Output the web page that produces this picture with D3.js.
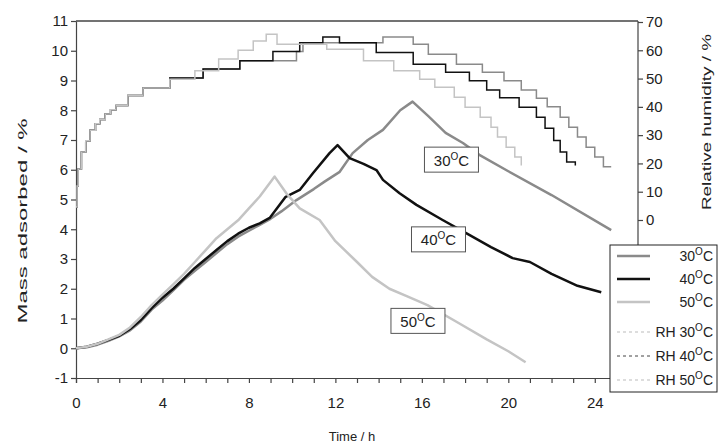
<!DOCTYPE html>
<html lang="en">
<head>
<meta charset="UTF-8">
<script src="https://cdn.jsdelivr.net/npm/d3@7"></script>
<title>Mass adsorbed and RH</title>
<style>
	body { margin: 0; background: #fff; }
	svg { font-family: "Liberation Sans", Arial, sans-serif; }
	.axis path, .axis line { stroke: #444; stroke-width: 1.2; }
	.axis text { font-size: 15px; fill: #222; }
	.title { font-size: 13px; fill: #222; }
</style>
</head>
<body>
<div id="chart"></div>
<script>
	const width = 719, height = 445;
	const margin = {left: 76, right: 81, top: 21, bottom: 67};

	// mass adsorbed (%) vs time (h)
	const mass30 = [[0,0],[0.5,0.03],[1,0.12],[1.5,0.25],[2,0.4],[2.5,0.6],[3,0.9],[3.5,1.3],[4,1.6],[4.5,1.95],[5,2.3],[5.5,2.6],[6,2.9],[6.5,3.2],[7,3.5],[7.5,3.75],[8,3.95],[8.5,4.15],[9,4.35],[9.5,4.6],[10.2,4.98],[11,5.35],[11.5,5.6],[12.2,5.93],[12.8,6.56],[13.5,7.0],[14.2,7.34],[15,8.0],[15.57,8.29],[16.3,7.8],[17.1,7.24],[17.9,6.9],[18.66,6.5],[20,5.95],[22,5.15],[24.76,3.97]];
	const mass40 = [[0,0],[0.5,0.05],[1,0.15],[1.5,0.28],[2,0.42],[2.5,0.65],[3,0.95],[3.5,1.35],[4,1.7],[4.5,2.0],[5,2.35],[5.5,2.7],[6,3.0],[6.5,3.3],[7,3.6],[7.5,3.85],[8,4.05],[8.5,4.2],[8.96,4.38],[9.7,5.09],[10.35,5.32],[10.96,5.88],[11.73,6.56],[12.1,6.83],[12.66,6.39],[13.3,6.2],[13.9,5.99],[14.2,5.66],[14.97,5.21],[15.75,4.82],[16.96,4.31],[18.05,3.87],[19.2,3.4],[20.2,3.03],[21,2.9],[22,2.5],[23.2,2.1],[24.3,1.88]];
	const mass50 = [[0,0],[0.5,0.05],[1,0.15],[1.5,0.3],[2,0.45],[2.5,0.7],[3,1.05],[3.5,1.45],[4,1.8],[4.5,2.15],[5,2.5],[5.5,2.9],[6,3.3],[6.5,3.7],[7,4.0],[7.5,4.3],[8,4.7],[8.5,5.1],[9.19,5.77],[9.74,5.2],[10.35,4.7],[11.27,4.31],[12,3.6],[13,2.9],[13.7,2.4],[14.5,2.0],[15.3,1.75],[16.26,1.45],[17.7,0.85],[19,0.3],[20,-0.1],[20.8,-0.47]];

	// relative humidity (%) step values vs time (h)
	const rhStart = [[0,4.6],[0.05,12],[0.1,18],[0.25,24],[0.45,28],[0.65,31.7],[0.9,34],[1.1,35.5],[1.35,37.5],[1.6,39],[1.85,40.5],[2.4,44],[3.1,46.7]];
	const rh30 = rhStart.concat([[4.34,50.2],[5.88,53.4],[7.58,56.3],[10.2,59.6],[10.5,62.7],[14.2,64.7],[15.6,62.1],[16.3,58.6],[17.6,55.1],[18.8,52.2],[19.8,49.2],[20.6,46],[21.3,43],[21.8,40],[22.4,36.3],[22.8,32.8],[23.2,29.3],[23.6,25.7],[24.0,22.3],[24.4,18.8],[24.76,18.8]]);
	const rh40 = rhStart.concat([[4.34,50.2],[5.88,53.4],[7.58,56.3],[9.11,59.6],[10.35,62.7],[11.42,64.7],[12.19,62.7],[13.89,59.2],[15.6,55.1],[17.1,52.2],[18.2,49.2],[19.0,46],[19.6,43.2],[20.5,39.9],[21.3,36.3],[21.7,32.4],[22.1,28.1],[22.4,24],[22.7,20.5],[23.1,19.3]]);
	const rh50 = rhStart.concat([[4.34,49.8],[5.5,52.8],[6.6,56.9],[7.5,60],[8.2,63.3],[8.8,65.7],[9.3,62.1],[11.6,60.4],[13.3,56.3],[14.7,52.8],[15.9,49.8],[16.6,46.9],[17.5,43.4],[18.0,39.9],[18.7,36.3],[19.2,32.8],[19.5,29.3],[19.9,25.7],[20.3,22.3],[20.6,19.3]]);

	const massTicks = d3.range(-1, 12);
	const rhTicks = [0, 10, 20, 30, 40, 50, 60, 70];
	const timeTicks = d3.range(0, 26);
	const timeLabels = [0, 4, 8, 12, 16, 20, 24];

	// in-plot labels: temperature, box centre (time, mass)
	const curveLabels = [
		{temp: '30', t: 17.37, m: 6.34},
		{temp: '40', t: 16.77, m: 3.66},
		{temp: '50', t: 15.82, m: 0.92}
	];

	const series = [
		{name: '30', data: mass30, color: '#8a8a8a'},
		{name: '40', data: mass40, color: '#111'},
		{name: '50', data: mass50, color: '#c4c4c4'}
	];
	const rhSeries = [
		{name: '30', data: rh30, color: '#8a8a8a'},
		{name: '40', data: rh40, color: '#111'},
		{name: '50', data: rh50, color: '#c4c4c4'}
	];

	const x = d3.scaleLinear().domain([0, 26]).range([margin.left, width - margin.right]);
	const y = d3.scaleLinear().domain([-1, 11]).range([height - margin.bottom, margin.top]);
	const yRH = d3.scaleLinear().domain([0, 70]).range([220, margin.top + 1]);

	const svg = d3.select('#chart').append('svg')
		.attr('width', width)
		.attr('height', height);

	// top frame
	svg.append('line')
		.attr('x1', x(0)).attr('x2', x(26))
		.attr('y1', y(11)).attr('y2', y(11))
		.attr('stroke', '#444').attr('stroke-width', 1.5);

	svg.append('g')
		.attr('class', 'axis')
		.attr('transform', `translate(0,${y(-1)})`)
		.call(d3.axisBottom(x).tickValues(timeTicks).tickSize(5)
			.tickFormat(d => timeLabels.indexOf(d) > -1 ? d : ''))
		.call(g => g.selectAll('text').attr('dy', '1.45em'));

	svg.append('g')
		.attr('class', 'axis')
		.attr('transform', `translate(${x(0)},0)`)
		.call(d3.axisLeft(y).tickValues(massTicks).tickSize(5).tickSizeOuter(0)
			.tickFormat(d => String(d)));

	// right axis runs the full height, ticks only 0..70
	svg.append('line')
		.attr('x1', x(26)).attr('x2', x(26))
		.attr('y1', y(11)).attr('y2', y(-1))
		.attr('stroke', '#444').attr('stroke-width', 1.2);
	svg.append('g')
		.attr('class', 'axis')
		.attr('transform', `translate(${x(26)},0)`)
		.call(d3.axisRight(yRH).tickValues(rhTicks).tickSize(5).tickSizeOuter(0))
		.call(g => g.select('.domain').remove());

	const rhLine = d3.line()
		.x(d => x(d[0]))
		.y(d => yRH(d[1]))
		.curve(d3.curveStepAfter);

	svg.append('g').selectAll('path')
		.data(rhSeries)
		.join('path')
		.attr('d', d => rhLine(d.data))
		.attr('fill', 'none')
		.attr('stroke', d => d.color)
		.attr('stroke-width', 1.5);

	const massLine = d3.line()
		.x(d => x(d[0]))
		.y(d => y(d[1]));

	svg.append('g').selectAll('path')
		.data(series)
		.join('path')
		.attr('d', d => massLine(d.data))
		.attr('fill', 'none')
		.attr('stroke', d => d.color)
		.attr('stroke-width', 2.5)
		.attr('stroke-linejoin', 'round');

	function degText(sel, prefix, temp) {
		sel.append('tspan').text(prefix + temp);
		sel.append('tspan').attr('dy', -6).attr('font-size', '10px').text('O');
		sel.append('tspan').attr('dy', 6).text('C');
	}

	const lab = svg.append('g').selectAll('g')
		.data(curveLabels)
		.join('g')
		.attr('transform', d => `translate(${x(d.t)},${y(d.m)})`);
	lab.append('rect')
		.attr('x', -27).attr('y', -12.5)
		.attr('width', 54).attr('height', 25)
		.attr('fill', '#fff').attr('stroke', '#555');
	lab.append('text')
		.attr('text-anchor', 'middle')
		.attr('y', 6)
		.attr('font-size', '15px')
		.attr('fill', '#222')
		.each(function(d) { degText(d3.select(this), '', d.temp); });

	// legend
	const legendItems = [
		{label: '', temp: '30', color: '#8a8a8a', dash: null, w: 2.5, yy: 256},
		{label: '', temp: '40', color: '#111', dash: null, w: 2.5, yy: 279},
		{label: '', temp: '50', color: '#c4c4c4', dash: null, w: 2.5, yy: 302},
		{label: 'RH ', temp: '30', color: '#bbb', dash: '3,3', w: 1, yy: 332},
		{label: 'RH ', temp: '40', color: '#444', dash: '3,3', w: 1, yy: 356},
		{label: 'RH ', temp: '50', color: '#bbb', dash: '3,3', w: 1, yy: 380}
	];
	const legend = svg.append('g');
	legend.append('rect')
		.attr('x', 610).attr('y', 245)
		.attr('width', 107).attr('height', 147)
		.attr('fill', '#fff').attr('stroke', '#222');
	const li = legend.selectAll('g.item')
		.data(legendItems)
		.join('g')
		.attr('class', 'item');
	li.append('line')
		.attr('x1', 617).attr('x2', 650)
		.attr('y1', d => d.yy).attr('y2', d => d.yy)
		.attr('stroke', d => d.color)
		.attr('stroke-width', d => d.w)
		.attr('stroke-dasharray', d => d.dash);
	li.append('text')
		.attr('x', 713).attr('y', d => d.yy + 5)
		.attr('text-anchor', 'end')
		.attr('font-size', '14px')
		.attr('fill', '#222')
		.each(function(d) { degText(d3.select(this), d.label, d.temp); });

	// axis titles (stretched along their length as in the source figure)
	svg.append('text')
		.attr('class', 'title')
		.attr('text-anchor', 'middle')
		.attr('transform', `translate(27,221) rotate(-90)`)
		.attr('textLength', 205)
		.attr('lengthAdjust', 'spacingAndGlyphs')
		.text('Mass adsorbed / %');
	svg.append('text')
		.attr('class', 'title')
		.attr('text-anchor', 'middle')
		.attr('transform', `translate(711,122) rotate(-90)`)
		.attr('textLength', 176)
		.attr('lengthAdjust', 'spacingAndGlyphs')
		.text('Relative humidity / %');
	svg.append('text')
		.attr('class', 'title')
		.attr('text-anchor', 'middle')
		.attr('x', 352).attr('y', 441)
		.text('Time / h');
</script>
</body>
</html>
